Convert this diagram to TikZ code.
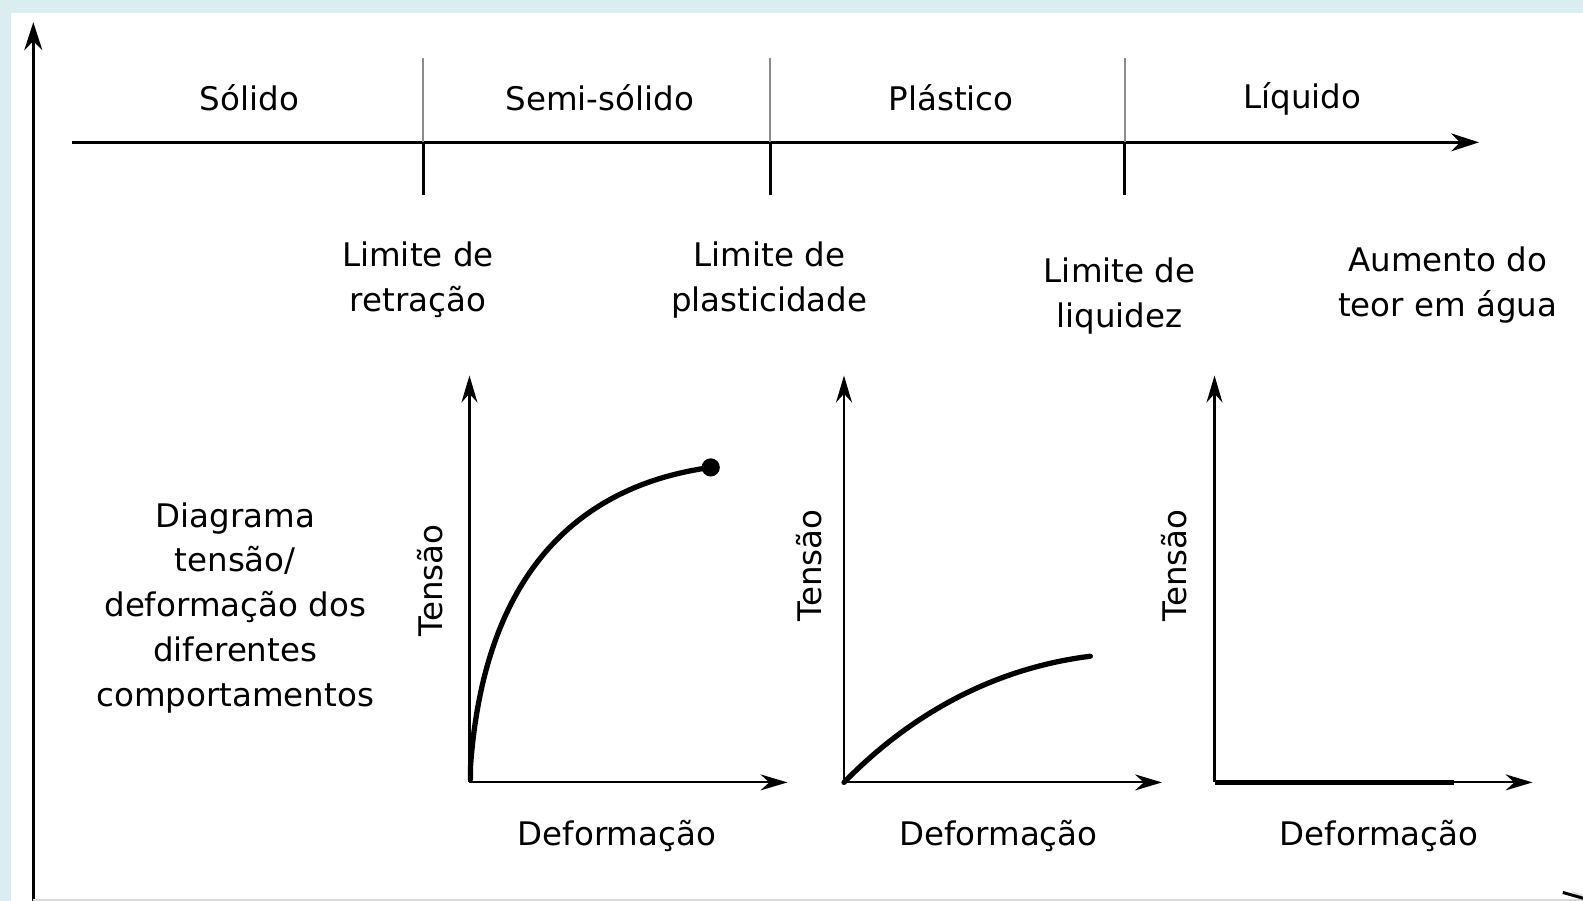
\documentclass[tikz,border=0pt]{standalone}
\usepackage{fontspec}
\setmainfont{DejaVu Sans}
\usetikzlibrary{arrows.meta}

\definecolor{framblue}{RGB}{218,237,240}
\tikzset{
    lbl/.style={font=\fontsize{9.25}{12.75}\selectfont, align=center, inner sep=0pt},
    axe/.style={line width=0.6pt, -{Stealth[length=0.27cm, width=0.16cm]}},
    bigaxe/.style={line width=0.85pt, -{Stealth[length=0.28cm, width=0.18cm]}},
    curva/.style={line width=1.5pt, line cap=round},
}

\begin{document}
\begin{tikzpicture}[x=0.010096cm, y=-0.010096cm]
            \useasboundingbox (0, 0) rectangle (1568, 892);
            \clip (0, 0) rectangle (1568, 892);
            \fill[framblue] (0, 0) rectangle (1568, 892);
            \fill[white] (11, 13) rectangle (1568, 892);
            % eixos gerais
            \coordinate (origem) at (33, 892);
            \coordinate (topo) at (33, 22);
            \draw[bigaxe] (33, 896) -- (topo);
            \draw[bigaxe, black!15] (origem) -- (1585, 892);
            \draw[black, line width=0.85pt] (1548, 884) -- (1576, 892);
            \coordinate (w0) at (71, 141);
            \coordinate (w1) at (1465, 141);
            \draw[bigaxe] (w0) -- (w1);
            % limites
            \foreach \nome/\x in {ret/419, pla/763, liq/1114} {
                \coordinate (\nome) at (\x, 141);
                \draw[black!45, line width=0.6pt] (\x, 57) -- (\nome);
                \draw[line width=0.85pt] (\nome) -- (\x, 193);
            }
            \node[lbl] (solido) at (247, 97) {Sólido};
            \node[lbl] (semi) at (594, 97) {Semi-sólido};
            \node[lbl] (plast) at (942, 97) {Plástico};
            \node[lbl] (liquido) at (1290, 98) {Líquido};
            \node[lbl] (lret) at (414, 277) {Limite de\\retração};
            \node[lbl] (lpla) at (762, 277) {Limite de\\plasticidade};
            \node[lbl] (lliq) at (1109, 293) {Limite de\\liquidez};
            \node[lbl] (agua) at (1434, 282) {Aumento do\\teor em água};
            \node[lbl] (diag) at (233, 602) {Diagrama\\tensão/\\deformação dos\\diferentes\\comportamentos};
            % diagramas tensao/deformacao
            \foreach \nome/\x in {a/465, b/836, c/1203} {
                \coordinate (\nome0) at (\x, 775);
                \draw[axe] (\nome0) -- (\x, 372);
                \draw[axe] (\nome0) -- (\x + 315, 775);
            }
            \node[lbl, rotate=90] (ta) at (426, 575) {Tensão};
            \node[lbl, rotate=90] (tb) at (801, 560) {Tensão};
            \node[lbl, rotate=90] (tc) at (1163, 560) {Tensão};
            \node[lbl] (da) at (611, 828) {Deformação};
            \node[lbl] (db) at (989, 828) {Deformação};
            \node[lbl] (dc) at (1366, 828) {Deformação};
            \coordinate (ruptura) at (704, 463);
            \draw[curva] (466, 772) -- (466, 760) .. controls (480, 560) and (580, 480) .. (ruptura);
            \fill (ruptura) circle (9);
            \draw[curva] (b0) .. controls (880, 730) and (960, 665) .. (1080, 650);
            \draw[curva, line cap=butt] (c0) -- (1440, 775);
        \end{tikzpicture}
\end{document}
